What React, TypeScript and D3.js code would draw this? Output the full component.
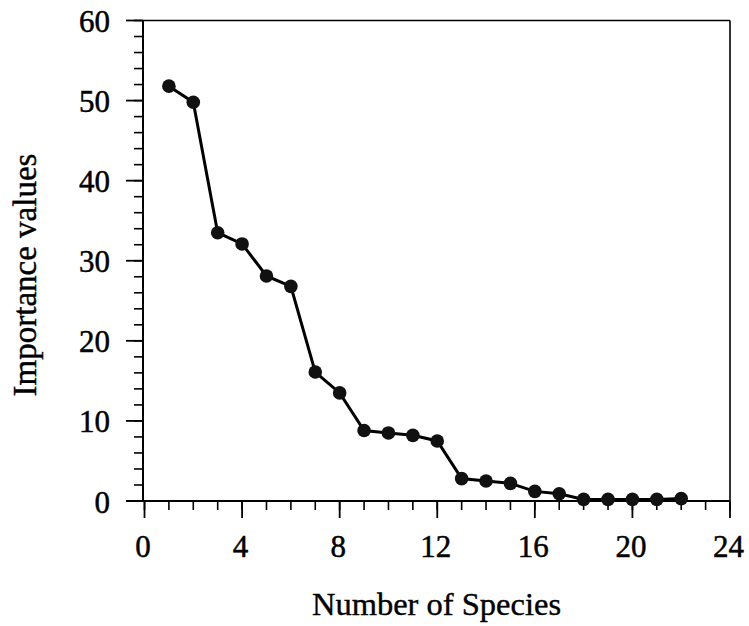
import React from "react";
import * as d3 from "d3";

const species = [1, 2, 3, 4, 5, 6, 7, 8, 9, 10, 11, 12, 13, 14, 15, 16, 17, 18, 19, 20, 21, 22];
const importance = [51.8, 49.8, 33.5, 32.1, 28.1, 26.8, 16.1, 13.5, 8.8, 8.5, 8.2, 7.5, 2.8, 2.5, 2.2, 1.2, 0.9, 0.2, 0.2, 0.2, 0.2, 0.3];
const xTicks = [0, 4, 8, 12, 16, 20, 24];
const yTicks = [0, 10, 20, 30, 40, 50, 60];
const xMinor = d3.range(0, 25, 1);
const yMinor = d3.range(0, 61, 2);

const W = 749;
const H = 626;
const L = 143;
const R = 730;
const T = 20.5;
const B = 501;
const FONT = "'Liberation Serif', 'Times New Roman', serif";

export default function App() {
  const x = d3.scaleLinear().domain([0, 24]).range([L + 1.5, R]);
  const y = d3.scaleLinear().domain([0, 60]).range([B, T]);
  const line = d3
    .line<number>()
    .x((_, i) => x(species[i]))
    .y((d) => y(d));

  return (
    <svg
      width={W}
      height={H}
      style={{ position: "absolute", left: 0, top: 0, background: "#fff" }}
      fontFamily={FONT}
    >
      {/* frame top/right */}
      <line x1={L} x2={R} y1={T} y2={T} stroke="#000" strokeWidth={1.6} />
      <line x1={R} x2={R} y1={T} y2={B} stroke="#000" strokeWidth={1.6} />
      {/* y axis */}
      <line x1={L} x2={L} y1={T} y2={B} stroke="#000" strokeWidth={2} />
      {yMinor.map((v) => (
        <line key={"ym" + v} x1={L - 9} x2={L} y1={y(v)} y2={y(v)} stroke="#000" strokeWidth={1.6} />
      ))}
      {yTicks.map((v) => (
        <g key={"yt" + v}>
          <line x1={L - 17} x2={L} y1={y(v)} y2={y(v)} stroke="#000" strokeWidth={1.8} />
          <text x={110} y={y(v) + 11.5} textAnchor="end" fontSize={31} fill="#000" stroke="#000" strokeWidth={0.5}>
            {v}
          </text>
        </g>
      ))}
      {/* x axis */}
      <line x1={L - 17} x2={R} y1={B} y2={B} stroke="#000" strokeWidth={2} />
      {xMinor.map((v) => (
        <line key={"xm" + v} x1={x(v)} x2={x(v)} y1={B} y2={B + 9} stroke="#000" strokeWidth={1.6} />
      ))}
      {xTicks.map((v) => (
        <g key={"xt" + v}>
          <line x1={x(v)} x2={x(v)} y1={B} y2={B + 17} stroke="#000" strokeWidth={1.8} />
          <text x={x(v) - 1.5} y={557} textAnchor="middle" fontSize={31} fill="#000" stroke="#000" strokeWidth={0.5}>
            {v}
          </text>
        </g>
      ))}
      {/* data */}
      <path d={line(importance) || ""} fill="none" stroke="#000" strokeWidth={3} />
      {importance.map((v, i) => (
        <circle key={"p" + i} cx={x(species[i])} cy={y(v)} r={6.8} fill="#111" />
      ))}
      {/* axis titles */}
      <text x={(L + R) / 2} y={615} textAnchor="middle" fontSize={32.5} fill="#000" stroke="#000" strokeWidth={0.4}>
        Number of Species
      </text>
      <text
        transform={`translate(36, 275) rotate(-90)`}
        textAnchor="middle"
        fontSize={33}
        fill="#000"
        stroke="#000"
        strokeWidth={0.4}
      >
        Importance values
      </text>
    </svg>
  );
}
